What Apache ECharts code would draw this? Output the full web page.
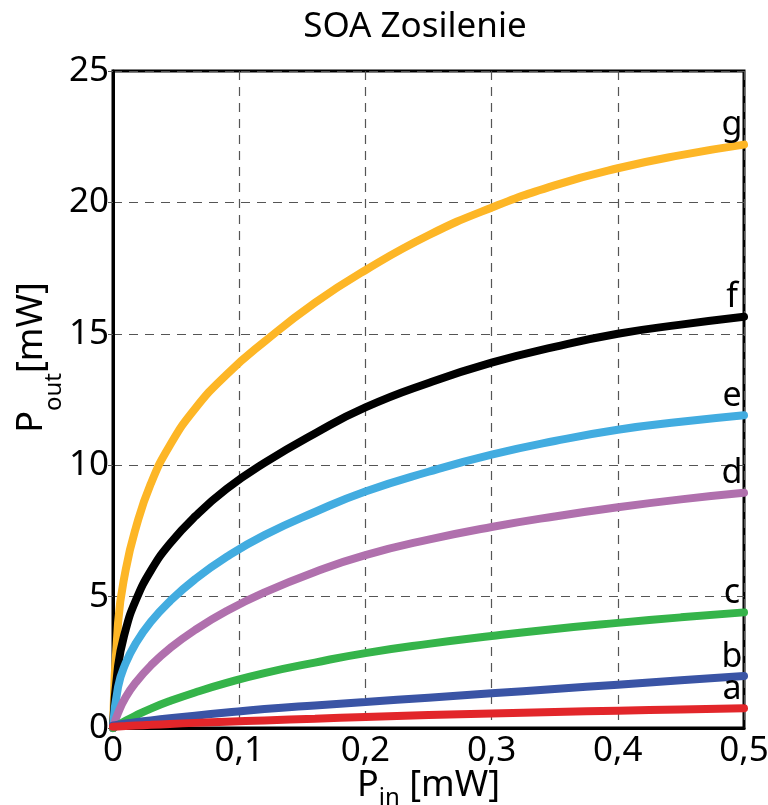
<!DOCTYPE html>
<html>
<head>
<meta charset="utf-8">
<script src="https://cdn.jsdelivr.net/npm/echarts@6/dist/echarts.min.js"></script>
<style>html,body{margin:0;padding:0;background:#fff;}#chart{width:768px;height:805px;}</style>
</head>
<body>
<div id="chart"></div>
<script>
var pin = [0, 0.004, 0.01, 0.018, 0.03, 0.045, 0.065, 0.09, 0.12, 0.16, 0.2, 0.25, 0.3, 0.35, 0.4, 0.45, 0.5];
var curveG = [0, 4.0, 6.0, 7.6, 9.3, 10.75, 12.15, 13.45, 14.7, 16.18, 17.42, 18.75, 19.8, 20.65, 21.3, 21.8, 22.2];
var curveF = [0, 2.35, 3.73, 4.85, 5.99, 7.01, 8.05, 9.1, 10.09, 11.21, 12.2, 13.13, 13.9, 14.5, 15.0, 15.35, 15.65];
var curveE = [0, 1.56, 2.46, 3.22, 4.04, 4.82, 5.66, 6.51, 7.34, 8.22, 9.0, 9.75, 10.4, 10.92, 11.35, 11.65, 11.9];
var curveD = [0, 0.57, 1.17, 1.73, 2.38, 3.03, 3.73, 4.45, 5.16, 5.94, 6.58, 7.17, 7.65, 8.05, 8.4, 8.7, 8.95];
var curveC = [0, 0.112, 0.274, 0.474, 0.738, 1.023, 1.353, 1.716, 2.09, 2.49, 2.85, 3.2, 3.5, 3.77, 4.0, 4.21, 4.4];
var curveB = [0.1, 0.13, 0.17, 0.22, 0.29, 0.37, 0.47, 0.59, 0.72, 0.86, 0.99, 1.155, 1.32, 1.485, 1.65, 1.815, 1.98];
var curveA = [0.05, 0.06, 0.075, 0.095, 0.12, 0.155, 0.195, 0.24, 0.29, 0.355, 0.42, 0.49, 0.555, 0.61, 0.66, 0.705, 0.75];
var curveNames = ['g', 'f', 'e', 'd', 'c', 'b', 'a'];
var curveValues = [curveG, curveF, curveE, curveD, curveC, curveB, curveA];
var curveColors = ['#FDB626', '#000000', '#42ACE0', '#B070AD', '#35B44A', '#3A54A5', '#E2262A'];
var xTicks = [0, 0.1, 0.2, 0.3, 0.4, 0.5];
var yTicks = [0, 5, 10, 15, 20, 25];

var FONT = 'Noto Sans';
var series = curveValues.map(function (vals, i) {
  return {
    type: 'line', name: curveNames[i],
    data: vals.map(function (v, j) { return [pin[j], v]; }),
    smooth: 0.5, showSymbol: false, symbol: 'none', clip: false,
    lineStyle: { color: curveColors[i], width: 8, cap: 'round' },
    endLabel: {
      show: true, formatter: curveNames[i], align: 'center', verticalAlign: 'bottom',
      distance: 0, offset: [-12, -2],
      fontSize: 34, fontFamily: FONT, color: '#000'
    },
    z: 3 + i
  };
});

var chart = echarts.init(document.getElementById('chart'));
chart.setOption({
  animation: false,
  backgroundColor: '#fff',
  title: {
    text: 'SOA Zosilenie', left: 410, top: 5, textAlign: 'center',
    textStyle: { fontFamily: FONT, fontSize: 35, fontWeight: 'normal', color: '#000' }
  },
  grid: { left: 113, right: 24, top: 71, bottom: 77, containLabel: false, outerBoundsMode: 'none',
          show: true, borderColor: '#000', borderWidth: 3, backgroundColor: 'transparent' },
  xAxis: {
    type: 'value', min: 0, max: 0.5, interval: 0.1,
    axisLine: { show: true, lineStyle: { color: '#000', width: 3 } },
    axisTick: { show: false },
    axisLabel: {
      fontFamily: FONT, fontSize: 35, color: '#000', margin: 6,
      formatter: function (v) { return String(+v.toFixed(1)).replace('.', ','); }
    },
    splitLine: { show: true, lineStyle: { color: '#555', type: [9, 7], width: 1.2 } },
    name: '{p|P}{s|in}{p| [mW]}', nameLocation: 'middle', nameGap: 40, nameMoveOverlap: false,
    nameTextStyle: {
      rich: {
        p: { fontFamily: FONT, fontSize: 36, color: '#000' },
        s: { fontFamily: FONT, fontSize: 24, color: '#000', verticalAlign: 'bottom', padding: [0, 0, -6, 0] }
      }
    }
  },
  yAxis: {
    type: 'value', min: 0, max: 25, interval: 5,
    axisLine: { show: true, lineStyle: { color: '#000', width: 3 } },
    axisTick: { show: true, length: 5, lineStyle: { color: '#555', width: 1 } },
    axisLabel: { fontFamily: FONT, fontSize: 35, color: '#000', margin: 4 },
    splitLine: { show: true, lineStyle: { color: '#555', type: [9, 7], width: 1.2 } },
    name: '{p|P}{s|out}{p|[mW]}', nameLocation: 'middle', nameGap: 63, nameRotate: 90, nameMoveOverlap: false,
    nameTextStyle: {
      padding: [0, 0, 0, 84],
      rich: {
        p: { fontFamily: FONT, fontSize: 36, color: '#000' },
        s: { fontFamily: FONT, fontSize: 24, color: '#000', verticalAlign: 'bottom', padding: [0, 0, -16, 0] }
      }
    }
  },
  series: series
});
</script>
</body>
</html>
